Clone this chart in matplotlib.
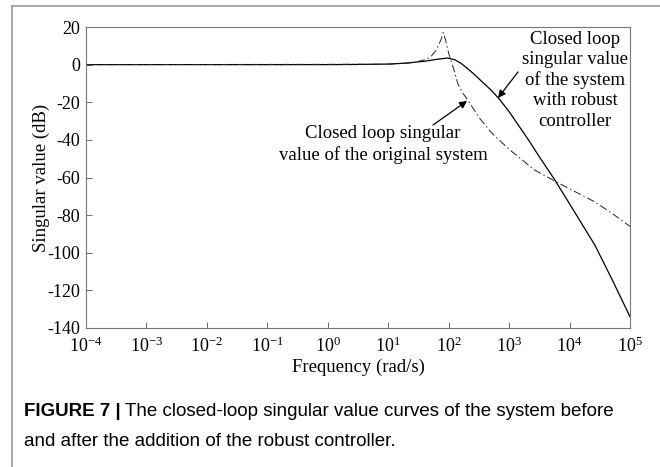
import numpy as np
import matplotlib.pyplot as plt
from matplotlib.lines import Line2D

plt.rcParams['font.family'] = 'Liberation Serif'
plt.rcParams['mathtext.fontset'] = 'custom'
plt.rcParams['mathtext.rm'] = 'Liberation Serif'
plt.rcParams['axes.unicode_minus'] = False

# closed loop singular value with robust controller (log10 of rad/s, dB)
logw_robust = [-4, 0, 0.5, 1.0, 1.3, 1.6, 1.8, 1.98, 2.1, 2.2, 2.3, 2.4, 2.53,
               2.7, 2.83, 3.0, 3.32, 3.5, 3.75, 4.0, 4.42, 4.7, 5.0]
sv_robust = [0, 0, 0.1, 0.3, 0.8, 1.8, 2.8, 3.5, 2.6, 0.8, -1.8, -4.5, -8.4,
             -13.5, -18, -25, -40, -49, -61, -74, -96, -114, -134]

# closed loop singular value of the original system
logw_orig = [-4, 1.0, 1.4, 1.6, 1.7, 1.8, 1.87, 1.91, 1.95, 2.0, 2.08, 2.15,
             2.23, 2.32, 2.5, 2.7, 3.0, 3.42, 3.82, 4.0, 4.42, 4.7, 5.0]
sv_orig = [0, 0.2, 1.0, 2.5, 4, 8, 13, 17, 13, 6, -2, -10,
           -15, -19, -28, -36, -45, -56, -63, -66, -73, -79, -86]

xtick_exp = [-4, -3, -2, -1, 0, 1, 2, 3, 4, 5]
yticks = [20, 0, -20, -40, -60, -80, -100, -120, -140]

w_robust = 10.0 ** np.array(logw_robust)
w_orig = 10.0 ** np.array(logw_orig)

fig = plt.figure(figsize=(6.6, 4.67), dpi=100)

# panel border (top and left)
fig.add_artist(Line2D([12/660, 1], [1-6/467, 1-6/467], color='#9a9a9a', lw=1.2))
fig.add_artist(Line2D([12/660, 12/660], [0, 1-6/467], color='#9a9a9a', lw=1.2))

ax = fig.add_axes([86/660, 1-328/467, 544/660, 301/467])
ax.semilogx(w_robust, sv_robust, color='k', lw=0.9)
ax.semilogx(w_orig, sv_orig, color='#222222', lw=0.7, dashes=(8, 3, 1.5, 3))

ax.set_xlim(1e-4, 1e5)
ax.set_ylim(-140, 20)
ax.set_xticks([10.0 ** e for e in xtick_exp])
ax.set_xticklabels([r'$\mathregular{10^{%d}}$' % e for e in xtick_exp])
ax.minorticks_off()
ax.set_yticks(yticks)
ax.set_yticklabels([str(v) for v in yticks])
ax.tick_params(direction='in', length=4, width=0.6, color='#555555',
               labelsize=13)
ax.tick_params(axis='x', pad=6)
ax.tick_params(axis='y', pad=4)
for s in ax.spines.values():
    s.set_color('#777777')
    s.set_linewidth(0.8)

ax.set_xlabel('Frequency (rad/s)', fontsize=13.5)
ax.set_ylabel('Singular value (dB)', fontsize=13.5)
ax.xaxis.set_label_coords(0.5, -0.102)
ax.yaxis.set_label_coords(-0.066, 0.5)

arrow = dict(arrowstyle='-|>', color='k', lw=0.9, mutation_scale=11,
             shrinkA=0, shrinkB=0)
ax.annotate('', xy=(10 ** 2.304, -19.3), xytext=(10 ** 1.741, -32.1),
            arrowprops=arrow)
ax.text(10 ** 0.914, -42.4, 'Closed loop singular\nvalue of the original system',
        ha='center', va='center', fontsize=13.5, linespacing=1.25)
ax.annotate('', xy=(10 ** 2.817, -17.7), xytext=(10 ** 3.147, -3.9),
            arrowprops=arrow)
ax.text(10 ** 4.09, -8.2,
        'Closed loop\nsingular value\nof the system\nwith robust\ncontroller',
        ha='center', va='center', fontsize=13.5, linespacing=1.25)

# caption: bold figure number followed by regular text
cap_x = 24/660
bold = fig.text(cap_x, 1-412/467, 'FIGURE 7 |', fontsize=13.5,
                family='Liberation Sans', weight='bold', va='center')
renderer = fig.canvas.get_renderer()
bb = bold.get_window_extent(renderer=renderer)
fig.text(bb.x1/660 + 4/660, 1-412/467,
         'The closed-loop singular value curves of the system before',
         fontsize=13.5, family='Liberation Sans', va='center')
fig.text(cap_x, 1-441/467, 'and after the addition of the robust controller.',
         fontsize=13.5, family='Liberation Sans', va='center')

plt.savefig('out.png', dpi=100)
